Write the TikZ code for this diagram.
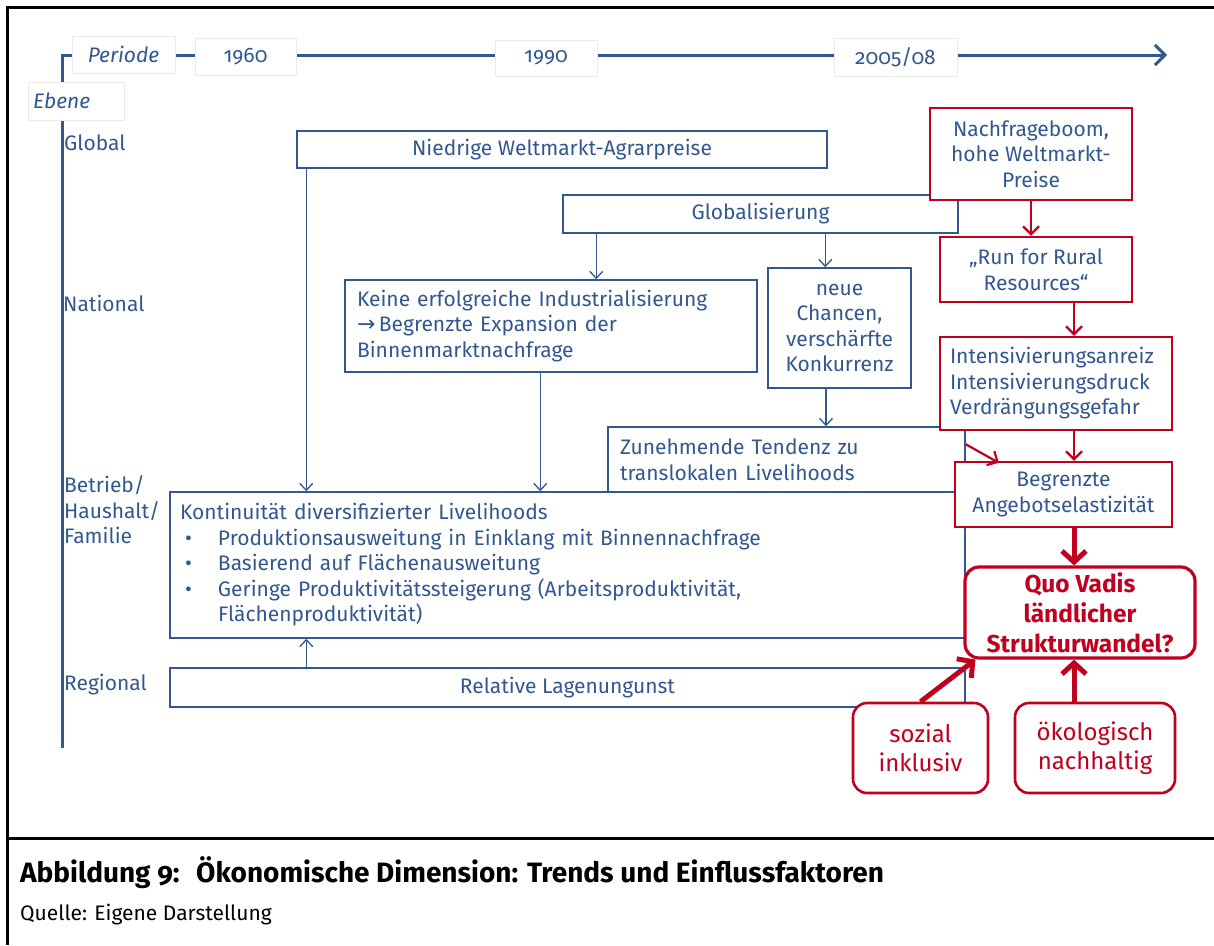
\documentclass[tikz,border=0pt]{standalone}
\usepackage{fontspec}
\setmainfont{Fira Sans}[Numbers=OldStyle]
\newfontfamily\arrowglyph{DejaVu Sans}
\usetikzlibrary{arrows.meta,calc}

\definecolor{inkblue}{RGB}{50,88,143}
\definecolor{inkred}{RGB}{192,0,30}

\newcommand\diagfont{\fontsize{21}{25.5}\selectfont}
\newcommand\goalfont{\fontsize{24}{29}\selectfont}

\begin{document}
\begin{tikzpicture}[x=1pt,y=-1pt,
  every node/.style={font=\diagfont},
  bluebox/.style={draw=inkblue, line width=1.5pt, fill=white, text=inkblue, inner sep=0pt, align=center},
  redbox/.style={draw=inkred, line width=2.4pt, fill=white, text=inkblue, inner sep=0pt, align=center},
  goalbox/.style={draw=inkred, line width=3pt, fill=white, text=inkred, rounded corners=14pt, inner sep=0pt, align=center, font=\goalfont},
  tagbox/.style={fill=white, draw=black!8, line width=0.8pt, text=inkblue, inner sep=0pt},
  level/.style={text=inkblue, anchor=west, inner sep=0pt, align=left},
  bluearrow/.style={draw=inkblue, line width=1.3pt, -{Straight Barb[length=7pt,width=13pt]}},
  redarrow/.style={draw=inkred, line width=2.2pt, -{Straight Barb[length=8pt,width=16pt]}},
  boldarrow/.style={draw=inkred, line width=5pt, -{Straight Barb[length=11pt,width=24pt]}},
  axis/.style={draw=inkblue, line width=3pt},
]
% page and frame
\fill[white] (0,0) rectangle (1214,945);
\useasboundingbox (0,0) rectangle (1214,945);
\draw[line width=3pt] (7,945) -- (7,7) -- (1214,7);
\draw[line width=3pt] (7,838) -- (1214,838);

% time axis and level axis
\coordinate (origin) at (62,55);
\coordinate (timeend) at (1167,55);
\coordinate (levelend) at (62,748);
\draw[axis, -{Straight Barb[length=10pt,width=20pt]}] (levelend) -- (origin) -- (timeend);

\node[tagbox, minimum width=103, minimum height=37] (periode) at (123.5,54.5) {\itshape Periode};
\node[tagbox, minimum width=101, minimum height=37] (y1960) at (245.5,56.5) {1960};
\node[tagbox, minimum width=102, minimum height=36] (y1990) at (546,58) {1990};
\node[tagbox, minimum width=123, minimum height=38] (y2005) at (895.5,57) {2005/08};
\node[tagbox, minimum width=96, minimum height=38, text width=86, align=left] (ebene) at (76,101) {\itshape Ebene};

% level labels
\node[level] (global) at (64,143) {Global};
\node[level] (national) at (63,303) {National};
\node[level] (betrieb) at (64,510) {Betrieb/\\Haushalt/\\Familie};
\node[level] (regional) at (64,685) {Regional};

% blue boxes
\node[bluebox, minimum width=795, minimum height=146, text width=775, align=left] (kont) at (567.5,565)
  {Kontinuität diversifizierter Livelihoods\\
   \hspace*{5pt}\makebox[33pt][l]{\textbullet}Produktionsausweitung in Einklang mit Binnennachfrage\\
   \hspace*{5pt}\makebox[33pt][l]{\textbullet}Basierend auf Flächenausweitung\\
   \hspace*{5pt}\makebox[33pt][l]{\textbullet}Geringe Produktivitätssteigerung (Arbeitsproduktivität,\\
   \hspace*{38pt}Flächenproduktivität)};
\node[bluebox, minimum width=795, minimum height=39] (rel) at (567.5,687.5) {Relative Lagenungunst};
\node[bluebox, minimum width=357, minimum height=65, text width=333, align=left] (zun) at (786.5,459.5)
  {Zunehmende Tendenz zu\\translokalen Livelihoods};
\node[bluebox, minimum width=530, minimum height=37] (niedrig) at (562,149.5) {Niedrige Weltmarkt-Agrarpreise};
\node[bluebox, minimum width=395, minimum height=38] (glob) at (760.5,214) {Globalisierung};
\node[bluebox, minimum width=412, minimum height=92, text width=388, align=left] (keine) at (551,326)
  {Keine erfolgreiche Industrialisierung\\
   {\arrowglyph\fontsize{22}{22}\selectfont →}\,Begrenzte Expansion der\\
   Binnenmarktnachfrage};
\node[bluebox, minimum width=143, minimum height=120] (neue) at (839.5,328) {neue\\Chancen,\\verschärfte\\Konkurrenz};

% blue connectors
\draw[bluearrow] ([xshift=10pt]niedrig.south west) -- ([xshift=10pt]niedrig.south west |- kont.north);
\draw[bluearrow] ([xshift=34pt]glob.south west) -- ([xshift=34pt]glob.south west |- keine.north);
\draw[bluearrow] ([xshift=263pt]glob.south west) -- ([xshift=263pt]glob.south west |- neue.north);
\draw[bluearrow] ([xshift=196pt]keine.south west) -- ([xshift=196pt]keine.south west |- kont.north);
\draw[bluearrow] ([xshift=-13.5pt]neue.south) -- ([xshift=-13.5pt]neue.south |- zun.north);
\draw[bluearrow] ([xshift=137pt]rel.north west) -- ([xshift=137pt]rel.north west |- kont.south);

% red chain
\node[redbox, minimum width=202, minimum height=92] (boom) at (1031,154) {Nachfrageboom,\\hohe Weltmarkt-\\Preise};
\node[redbox, minimum width=192, minimum height=65] (run) at (1036,269.5) {„Run for Rural\\Resources“};
\node[redbox, minimum width=232, minimum height=93, text width=212, align=left] (intens) at (1056,383.5)
  {Intensivierungsanreiz\\Intensivierungsdruck\\Verdrängungsgefahr};
\node[redbox, minimum width=217, minimum height=65] (elast) at (1063.5,494.5) {Begrenzte\\Angebotselastizität};
\node[goalbox, line width=3.2pt, minimum width=230, minimum height=91, font=\fontsize{24.5}{30}\selectfont\bfseries] (quo) at (1080,612.5)
  {Quo Vadis\\ländlicher\\Strukturwandel?};
\node[goalbox, line width=2.6pt, minimum width=135, minimum height=90] (sozial) at (920.5,748) {sozial\\inklusiv};
\node[goalbox, line width=2.6pt, minimum width=160, minimum height=90] (oeko) at (1095,748) {ökologisch\\nachhaltig};

% red connectors
\draw[redarrow] (boom.south) -- (boom.south |- run.north);
\draw[redarrow] ([xshift=38pt]run.south) -- ([xshift=38pt]run.south |- intens.north);
\draw[redarrow] ([xshift=18pt]intens.south) -- ([xshift=18pt]intens.south |- elast.north);
\draw[redarrow] ([yshift=-18pt]zun.north east) -- ([xshift=45pt,yshift=-2pt]elast.north west);
\draw[boldarrow] ([xshift=10.5pt]elast.south) -- ([xshift=10.5pt]elast.south |- quo.north);
\draw[boldarrow] ([xshift=-21pt]oeko.north) -- ([xshift=-21pt]oeko.north |- quo.south);
\draw[boldarrow] (sozial.north) -- ([xshift=12pt]quo.south west);

% caption
\node[anchor=base west, inner sep=0pt, font=\fontsize{28}{32}\selectfont\bfseries] (capnum) at (20,882) {Abbildung 9:};
\node[anchor=base west, inner sep=0pt, font=\fontsize{28}{32}\selectfont\bfseries] (captitle) at (196,882) {Ökonomische Dimension: Trends und Einflussfaktoren};
\node[anchor=base west, inner sep=0pt, font=\fontsize{21}{24}\selectfont] (source) at (20,920) {Quelle: Eigene Darstellung};
\end{tikzpicture}
\end{document}
